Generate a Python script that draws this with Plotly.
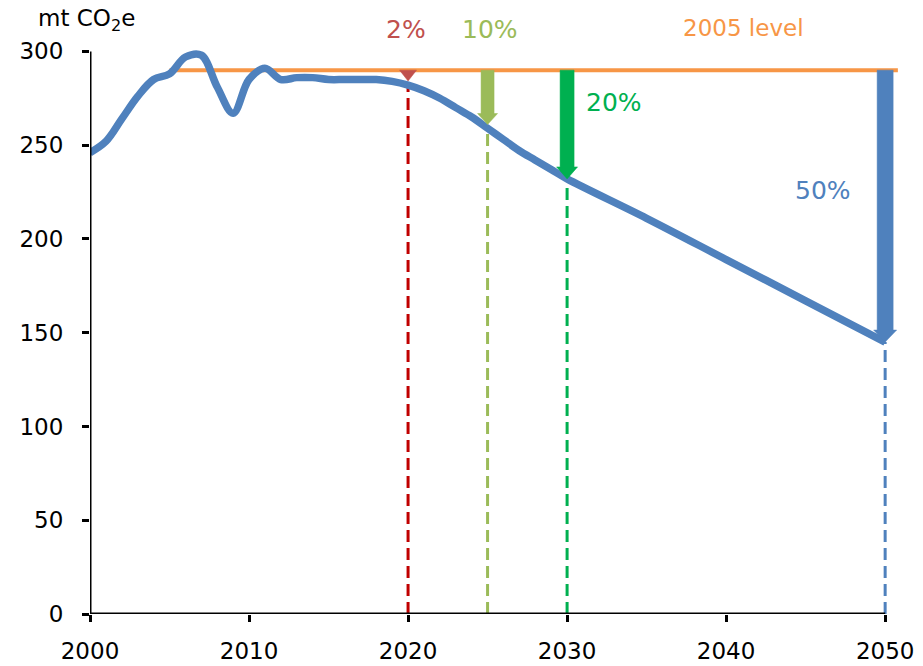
import plotly.graph_objects as go

# ---- data ----
years = [2000, 2001, 2002, 2003, 2004, 2005, 2006, 2007, 2008, 2009, 2010, 2011, 2012,
         2013, 2014, 2015, 2016, 2017, 2018, 2019, 2020, 2021, 2022, 2023, 2024, 2025,
         2026, 2027, 2028, 2029, 2030, 2035, 2040, 2045, 2050]
emissions = [246, 252, 264, 276, 285, 288, 297, 298, 281, 267, 285, 291, 285,
             286, 286, 285, 285, 285, 285, 284, 282, 279, 275, 270, 265, 259,
             253, 247, 242, 237, 232, 211, 189, 167, 145]
level_2005 = 290
level_start, level_end = 2005, 2050.8
target_years = [2020, 2025, 2030, 2050]
target_cuts = [0.02, 0.10, 0.20, 0.50]
target_labels = ["2%", "10%", "20%", "50%"]
level_label = "2005 level"
y_title = "mt CO<sub>2</sub>e"
x_ticks = [2000, 2010, 2020, 2030, 2040, 2050]
y_ticks = [0, 50, 100, 150, 200, 250, 300]

# ---- style ----
BLUE = "#4F81BD"
ORANGE = "#F79646"
dash_colors = ["#C00000", "#9BBB59", "#00B050", "#4F81BD"]
arrow_colors = ["#C0504D", "#9BBB59", "#00B050", "#4F81BD"]
label_colors = ["#C0504D", "#9BBB59", "#00B050", "#4F81BD"]
shaft_px = [0, 13, 14, 16]
head_w_px = [17, 20, 21, 23]
head_len_px = [8, 11, 12, 12]
label_px = [(406, 30), (490, 30), (614, 102), (823, 190)]
level_label_px = (743, 28)
y_title_px = (86, 20)
FONT = "DejaVu Sans"

W, H = 923, 666
ML, MR, MT, MB = 90, 14, 42, 52
PW, PH = W - ML - MR, H - MT - MB
XR = [2000, 2051.5]
YR = [0, 305]
xpp = (XR[1] - XR[0]) / PW
ypp = (YR[1] - YR[0]) / PH


def paper(px, py):
    return (px - ML) / PW, (H - MB - py) / PH


fig = go.Figure()

# dashed drop lines
for yr, col in zip(target_years, dash_colors):
    v = emissions[years.index(yr)]
    fig.add_trace(go.Scatter(x=[yr, yr], y=[0, v], mode="lines",
                             line=dict(color=col, width=3, dash="12px,6px"),
                             hoverinfo="skip", showlegend=False))

# 2005 level line
fig.add_trace(go.Scatter(x=[level_start, level_end], y=[level_2005, level_2005], mode="lines",
                         line=dict(color=ORANGE, width=4), hoverinfo="skip", showlegend=False))

# emissions line
fig.add_trace(go.Scatter(x=years, y=emissions, mode="lines",
                         line=dict(color=BLUE, width=7.5, shape="spline", smoothing=1.0),
                         hoverinfo="skip", showlegend=False))

# arrows
for yr, cut, col, sw, hw, hl in zip(target_years, target_cuts, arrow_colors,
                                     shaft_px, head_w_px, head_len_px):
    top = level_2005
    tip = level_2005 * (1 - cut)
    s = sw / 2 * xpp
    h = hw / 2 * xpp
    hlen = hl * ypp
    if top - tip <= hlen or sw == 0:
        xs = [yr - h, yr + h, yr, yr - h]
        ys = [top, top, tip, top]
    else:
        base = tip + hlen
        xs = [yr - s, yr + s, yr + s, yr + h, yr, yr - h, yr - s, yr - s]
        ys = [top, top, base, base, tip, base, base, top]
    fig.add_trace(go.Scatter(x=xs, y=ys, mode="lines", fill="toself", fillcolor=col,
                             line=dict(color=col, width=0.5), hoverinfo="skip",
                             showlegend=False))

# labels (paper coordinates so they can sit above the plot area)
for txt, col, (px, py) in zip(target_labels, label_colors, label_px):
    ax, ay = paper(px, py)
    fig.add_annotation(x=ax, y=ay, xref="paper", yref="paper", text=txt, showarrow=False,
                       xanchor="center", yanchor="middle",
                       font=dict(family=FONT, size=25, color=col))
ax, ay = paper(*level_label_px)
fig.add_annotation(x=ax, y=ay, xref="paper", yref="paper", text=level_label, showarrow=False,
                   xanchor="center", yanchor="middle",
                   font=dict(family=FONT, size=23, color=ORANGE))
ax, ay = paper(*y_title_px)
fig.add_annotation(x=ax, y=ay, xref="paper", yref="paper", text=y_title, showarrow=False,
                   xanchor="center", yanchor="middle",
                   font=dict(family=FONT, size=23, color="black"))

# axis lines
fig.add_shape(type="line", xref="x", yref="y", x0=XR[0] - 7 * xpp, x1=2050, y0=0, y1=0,
              line=dict(color="black", width=3))
fig.add_shape(type="line", xref="x", yref="y", x0=XR[0], x1=XR[0], y0=0, y1=300,
              line=dict(color="black", width=3))

fig.update_layout(
    width=W, height=H,
    margin=dict(l=ML, r=MR, t=MT, b=MB, autoexpand=False),
    paper_bgcolor="white", plot_bgcolor="white",
    showlegend=False,
    xaxis=dict(range=XR, tickvals=x_ticks, ticktext=[str(t) for t in x_ticks],
               automargin=False,
               showgrid=False, zeroline=False, showline=False,
               ticks="outside", ticklen=7, tickwidth=3, tickcolor="black",
               ticklabelstandoff=9,
               tickfont=dict(family=FONT, size=23, color="black")),
    yaxis=dict(range=YR, tickvals=y_ticks, automargin=False,
               showgrid=False, zeroline=False, showline=False,
               ticks="outside", ticklen=7, tickwidth=3, tickcolor="black",
               ticklabelstandoff=14,
               tickfont=dict(family=FONT, size=23, color="black")),
)

fig.write_html("out.html")
